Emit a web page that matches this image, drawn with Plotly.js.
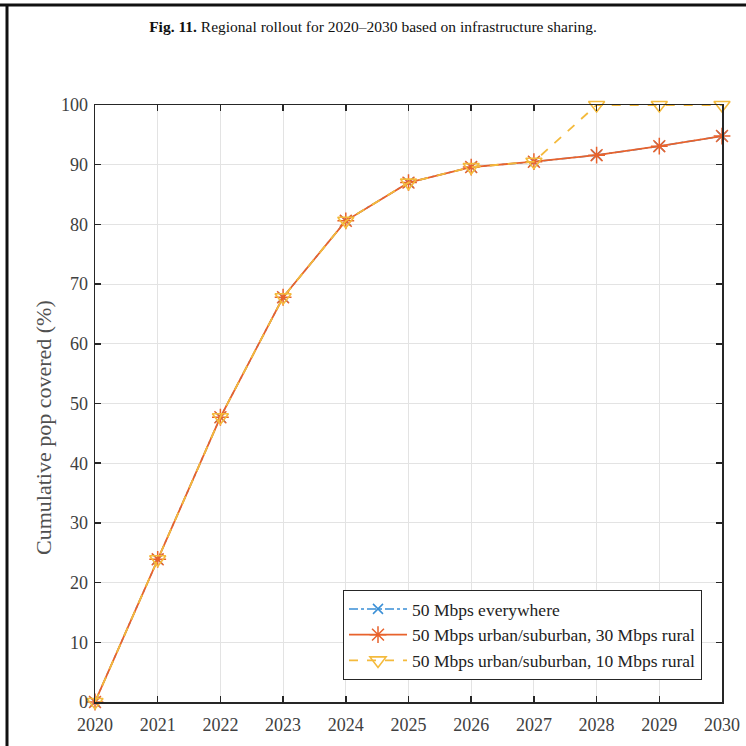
<!DOCTYPE html>
<html>
<head>
<meta charset="utf-8">
<script src="https://cdn.plot.ly/plotly-3.0.1.min.js"></script>
<style>
html,body{margin:0;padding:0;background:#fff;}
#chart{width:746px;height:746px;}
</style>
</head>
<body>
<div id="chart"></div>
<script>
var years = [2020, 2021, 2022, 2023, 2024, 2025, 2026, 2027, 2028, 2029, 2030];
var everywhere50 = [0, 23.9, 47.7, 67.8, 80.6, 87.0, 89.6, 90.5, 91.6, 93.1, 94.8];
var urban50rural30 = [0, 23.9, 47.7, 67.8, 80.6, 87.0, 89.6, 90.5, 91.6, 93.1, 94.8];
var urban50rural10 = [0, 23.9, 47.7, 67.8, 80.6, 87.0, 89.6, 90.5, 100, 100, 100];
var seriesNames = ["50 Mbps everywhere", "50 Mbps urban/suburban, 30 Mbps rural", "50 Mbps urban/suburban, 10 Mbps rural"];
var yTicks = [0, 10, 20, 30, 40, 50, 60, 70, 80, 90, 100];
var yTitle = "Cumulative pop covered (%)";

var W = 746, H = 746;
var mL = 95, mR = 24, mT = 105, mB = 44;
var pw = W - mL - mR, ph = H - mT - mB;
function px(x){ return (x - mL) / pw; }
function py(y){ return (H - mB - y) / ph; }

var serif = "Liberation Serif, Times New Roman, serif";

var traces = [
  {x: years, y: everywhere50, name: seriesNames[0], type: "scatter", mode: "lines+markers", cliponaxis: false,
   line: {color: "#3A8FD6", width: 1.5, dash: "dashdot"},
   marker: {symbol: "x-thin-open", size: 10, line: {color: "#3A8FD6", width: 1.5}, color: "#3A8FD6"}},
  {x: years, y: urban50rural30, name: seriesNames[1], type: "scatter", mode: "lines+markers", cliponaxis: false,
   line: {color: "#E8622C", width: 1.8},
   marker: {symbol: "asterisk-open", size: 14, line: {color: "#E8622C", width: 1.5}, color: "#E8622C"}},
  {x: years, y: urban50rural10, name: seriesNames[2], type: "scatter", mode: "lines+markers", cliponaxis: false,
   line: {color: "#F4BA3C", width: 1.8, dash: "dash"},
   marker: {symbol: "triangle-down-open", size: 14, line: {color: "#F4BA3C", width: 1.6}, color: "#F4BA3C"}}
];

var axisCommon = {
  showline: true, linecolor: "#262626", linewidth: 1.5, mirror: "ticks",
  ticks: "inside", ticklen: 6, tickwidth: 1.5, tickcolor: "#262626",
  showgrid: true, gridcolor: "#e3e3e3", gridwidth: 1, zeroline: false,
  tickfont: {family: serif, size: 18, color: "#404040"}
};

var layout = {
  width: W, height: H,
  margin: {l: mL, r: mR, t: mT, b: mB, pad: 0},
  paper_bgcolor: "#fff", plot_bgcolor: "#fff",
  title: {text: "<b>Fig. 11.</b> Regional rollout for 2020–2030 based on infrastructure sharing.",
          font: {family: serif, size: 15.5, color: "#111"}, x: 373 / W, xref: "container", xanchor: "center",
          y: 1 - 27 / H, yref: "container", yanchor: "middle"},
  xaxis: Object.assign({}, axisCommon, {range: [2020, 2030], tickmode: "array", tickvals: years,
          ticktext: years.map(String), ticklabelstandoff: 6}),
  yaxis: Object.assign({}, axisCommon, {range: [0, 100], tickmode: "array", tickvals: yTicks,
          ticklabelstandoff: 2}),
  annotations: [
    {text: yTitle, xref: "paper", yref: "paper", x: px(43), y: py(428), xanchor: "center", yanchor: "middle",
     textangle: -90, showarrow: false, font: {family: serif, size: 22, color: "#505050"}}
  ],
  showlegend: true,
  legend: {x: px(702), y: py(680), xanchor: "right", yanchor: "bottom",
           bgcolor: "#fff", bordercolor: "#262626", borderwidth: 1,
           font: {family: serif, size: 17.5, color: "#222"}, itemwidth: 58, tracegroupgap: 0},
  shapes: [
    {type: "line", xref: "paper", yref: "paper", x0: px(0), x1: px(746), y0: py(5), y1: py(5),
     line: {color: "#111", width: 3}},
    {type: "line", xref: "paper", yref: "paper", x0: px(7), x1: px(7), y0: py(5), y1: py(746),
     line: {color: "#111", width: 3}}
  ]
};

Plotly.newPlot("chart", traces, layout, {displayModeBar: false, staticPlot: true});
</script>
</body>
</html>
